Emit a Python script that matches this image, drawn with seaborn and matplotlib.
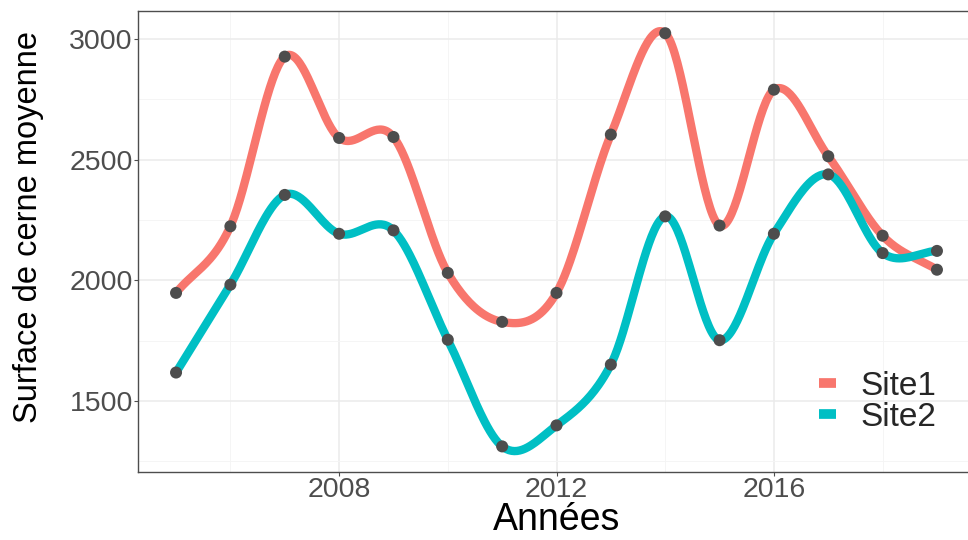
import numpy as np
import pandas as pd
import matplotlib
matplotlib.use("Agg")
import matplotlib.pyplot as plt
import seaborn as sns

years = list(range(2005, 2020))
site1 = [1948, 2224, 2927, 2590, 2594, 2031, 1828, 1948, 2604, 3024, 2227, 2790, 2514, 2185, 2044]
site2 = [1618, 1982, 2354, 2193, 2207, 1754, 1312, 1399, 1651, 2265, 1752, 2193, 2439, 2113, 2122]
sites = ["Site1", "Site2"]
colors = {"Site1": "#F8766D", "Site2": "#00BFC4"}


def smooth_curve(x, y, per=40):
    """Cardinal (Catmull-Rom) spline through the data points."""
    x = np.asarray(x, float); y = np.asarray(y, float)
    k = len(x)
    m = np.empty(k)
    m[1:-1] = (y[2:] - y[:-2]) / (x[2:] - x[:-2])
    m[0] = (y[1] - y[0]) / (x[1] - x[0])
    m[-1] = (y[-1] - y[-2]) / (x[-1] - x[-2])
    xs_all, ys_all = [], []
    for i in range(k - 1):
        h = x[i + 1] - x[i]
        t = np.linspace(0, 1, per, endpoint=(i == k - 2))
        h00 = 2 * t**3 - 3 * t**2 + 1
        h10 = t**3 - 2 * t**2 + t
        h01 = -2 * t**3 + 3 * t**2
        h11 = t**3 - t**2
        xs_all.append(x[i] + t * h)
        ys_all.append(h00 * y[i] + h10 * h * m[i] + h01 * y[i + 1] + h11 * h * m[i + 1])
    return np.concatenate(xs_all), np.concatenate(ys_all)


pts = pd.DataFrame({"Année": years * 2, "Surface": site1 + site2,
                    "Site": ["Site1"] * len(years) + ["Site2"] * len(years)})
curves = []
for s, vals in zip(sites, [site1, site2]):
    xs, ys = smooth_curve(years, vals)
    curves.append(pd.DataFrame({"Année": xs, "Surface": ys, "Site": s}))
curves = pd.concat(curves)

sns.set_theme(style="white")
plt.rcParams["font.family"] = ["Liberation Sans", "DejaVu Sans"]

fig = plt.figure(figsize=(9.68, 5.4), dpi=100)
ax = fig.add_axes([138 / 968, 1 - 471.5 / 540, (975 - 138) / 968, (471.5 - 11) / 540])

sns.lineplot(data=curves, x="Année", y="Surface", hue="Site", palette=colors,
             linewidth=6, ax=ax, sort=False, estimator=None, solid_capstyle="butt")
sns.scatterplot(data=pts, x="Année", y="Surface", color="#4D4D4D", s=75,
                edgecolor="none", ax=ax, legend=False, zorder=5)

ax.set_xlim(2004.3, 2019.7)
ax.set_ylim(1208, 3116)
ax.set_xticks([2008, 2012, 2016])
ax.set_xticks([2006, 2010, 2014, 2018], minor=True)
ax.set_yticks([1500, 2000, 2500, 3000])
ax.set_yticks([1250, 1750, 2250, 2750], minor=True)
ax.grid(True, which="major", color="#EBEBEB", linewidth=1.1)
ax.grid(True, which="minor", color="#F4F4F4", linewidth=0.6)
ax.set_axisbelow(True)
for sp in ax.spines.values():
    sp.set_color("#4D4D4D"); sp.set_linewidth(1.0); sp.set_visible(True)
ax.tick_params(axis="both", which="major", length=2.75, width=0.8, color="#4D4D4D",
               labelsize=20.5, labelcolor="#4D4D4D", pad=1.0, direction="out",
               bottom=True, left=True)
ax.tick_params(axis="both", which="minor", length=0)
ax.set_xlabel("Années", fontsize=27, color="black")
ax.xaxis.set_label_coords(0.5, -0.066)
ax.set_ylabel("Surface de cerne moyenne", fontsize=23.5, color="black")
ax.yaxis.set_label_coords(-0.112, 0.531)

handles, labels = ax.get_legend_handles_labels()
for h in handles:
    h.set_linewidth(7)
leg = ax.legend(handles, labels, loc="lower right", bbox_to_anchor=(0.97, 0.055),
                frameon=False, fontsize=24, handlelength=0.5, handletextpad=0.75,
                labelspacing=0.0, borderaxespad=0)

fig.savefig("out.png", dpi=100)
